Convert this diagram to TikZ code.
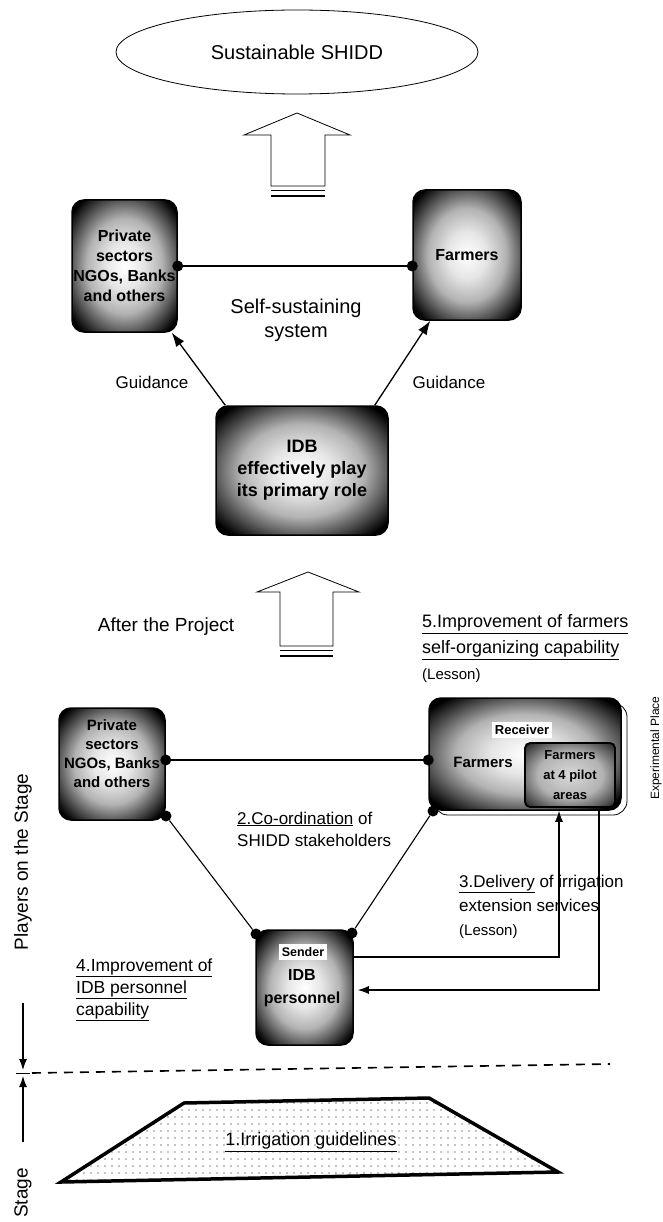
\documentclass[tikz,border=0pt]{standalone}
\usepackage{fontspec}
\setmainfont{Liberation Sans}
\usetikzlibrary{arrows.meta,patterns.meta,shapes.geometric}
\pgfdeclareradialshading{boxshade}{\pgfpoint{0bp}{0bp}}{color(0bp)=(white); color(9bp)=(white!90!black); color(18bp)=(white!70!black); color(26bp)=(black!70); color(32bp)=(black); color(50bp)=(black)}
\pgfdeclareradialshading{innershade}{\pgfpoint{0bp}{0bp}}{color(0bp)=(white!85!black); color(18bp)=(white!70!black); color(30bp)=(black!70); color(38bp)=(black); color(50bp)=(black)}
\tikzset{
  player/.style={draw=black, line width=1.5pt, rounded corners=12pt, shade, shading=boxshade, align=center, inner sep=0pt},
  dotnode/.style={circle, fill=black, inner sep=0pt, minimum size=11pt},
  conn/.style={line width=1.1pt},
  guide/.style={line width=1.3pt, -{Latex[length=14pt,width=10pt]}},
  feed/.style={line width=1.1pt, -{Latex[length=11pt,width=8pt]}},
  blockarrow/.style={draw=black, fill=white, line width=0.8pt},
  lbl/.style={align=left, inner sep=0pt},
  boxtext/.style={align=center, inner sep=0pt},
}
\begin{document}
\begin{tikzpicture}[x=1pt,y=-1pt]
\useasboundingbox (0,0) rectangle (663,1222);
\fill[white] (0,0) rectangle (663,1222);

% goal ellipse
\node[ellipse, draw, line width=0.8pt, minimum width=362pt, minimum height=84pt, fill=white,
      font=\fontsize{20}{24}\selectfont] (goal) at (297,52) {Sustainable SHIDD};

% block arrow 1
\draw[blockarrow] (297,113) -- (350,135) -- (325,135) -- (325,186) -- (271,186) -- (271,135) -- (244,135) -- cycle;
\draw[line width=0.7pt] (271,190) -- (325,190);
\draw[line width=2.5pt] (271,196) -- (325,196);

% top players
\node[player, minimum width=105pt, minimum height=132pt, font=\bfseries\fontsize{16}{20}\selectfont] (tp) at (124.5,266)
  {Private\\sectors\\NGOs, Banks\\and others};
\node[player, minimum width=108pt, minimum height=130pt, font=\bfseries\fontsize{16}{20}\selectfont] (tf) at (467,255)
  {Farmers};
\node[player, minimum width=172pt, minimum height=129pt, font=\bfseries\fontsize{18}{22}\selectfont] (idb) at (302,470.5)
  {IDB\\effectively play\\its primary role};

\node[dotnode] (d1) at (tp.east) {};
\node[dotnode] (d2) at (tf.west |- d1) {};
\draw[conn] (d1) -- (d2);

\node[boxtext, font=\fontsize{20}{24}\selectfont] (sss) at (296,320) {Self-sustaining\\system};

\draw[guide] ([xshift=10pt]idb.north west) -- ([xshift=-6pt]tp.south east);
\draw[guide] ([xshift=-14pt]idb.north east) -- ([xshift=18pt]tf.south west);
\node[boxtext, font=\fontsize{17}{20}\selectfont] (g1) at (152,382) {Guidance};
\node[boxtext, font=\fontsize{17}{20}\selectfont] (g2) at (449,382) {Guidance};

% block arrow 2
\draw[blockarrow] (308,572) -- (359,592) -- (333,592) -- (333,646) -- (280,646) -- (280,592) -- (257,592) -- cycle;
\draw[line width=0.7pt] (280,650) -- (333,650);
\draw[line width=2.5pt] (280,656) -- (333,656);

\node[boxtext, font=\fontsize{19}{22}\selectfont] (after) at (166,627) {After the Project};

\node[lbl, anchor=west, font=\fontsize{18}{26}\selectfont] (imp5) at (422,649)
  {\underline{5.Improvement of farmers}\\\underline{self-organizing capability}\\{\fontsize{15}{26}\selectfont (Lesson)}};

% lower players
\node[player, minimum width=106pt, minimum height=112pt] (lp) at (112,764) {};
\node[boxtext, font=\bfseries\fontsize{15}{19}\selectfont] (lpt) at (112,754) {Private\\sectors\\NGOs, Banks\\and others};

\draw[line width=0.8pt, rounded corners=14pt] (434,703) rectangle (627,815);
\node[player, minimum width=192pt, minimum height=112pt] (lf) at (525,754) {};
\node[boxtext, fill=white, inner sep=3pt, font=\bfseries\fontsize{13}{16}\selectfont] (recv) at (522,730) {Receiver};
\node[boxtext, font=\bfseries\fontsize{15}{18}\selectfont] (lft) at (483,762) {Farmers};
\node[draw=black, rounded corners=5pt, line width=1.8pt, shade, shading=innershade, align=center, inner sep=0pt,
      minimum width=90pt, minimum height=64pt,
      font=\bfseries\fontsize{13}{20}\selectfont] (pilot) at (570,775) {Farmers\\at 4 pilot\\areas};

\node[dotnode] (d3) at (lp.east |- 0,760) {};
\node[dotnode] (d4) at (lf.west |- d3) {};
\draw[conn] (d3) -- (d4);

\node[lbl, anchor=west, font=\fontsize{17}{22}\selectfont] (coord) at (237,829)
  {\underline{2.Co-ordination} of\\SHIDD stakeholders};

% IDB personnel
\node[player, minimum width=97pt, minimum height=115pt] (ip) at (304.5,987.5) {};
\node[boxtext, fill=white, inner sep=3pt, font=\bfseries\fontsize{12.5}{15}\selectfont] (snd) at (303,952) {Sender};
\node[boxtext, font=\bfseries\fontsize{16}{23}\selectfont] (ipt) at (302,988) {IDB\\personnel};

\node[dotnode] (d5) at (166,816) {};
\node[dotnode] (d6) at (433,811) {};
\node[dotnode] (d7) at (256,934) {};
\node[dotnode] (d8) at (352,933) {};
\draw[conn] (d5) -- (d7);
\draw[conn] (d6) -- (d8);

% feedback lines
\coordinate (c1) at (559,957);
\coordinate (c2) at (599,990);
\draw[feed] (ip.east |- c1) -- (c1) -- (c1 |- lf.south);
\draw[feed] (c2 |- lf.south) -- (c2) -- ([xshift=4pt]ip.east |- c2);

\node[lbl, anchor=west, font=\fontsize{17}{24}\selectfont] (deliv) at (459,907)
  {\underline{3.Delivery} of irrigation\\extension services\\{\fontsize{15}{24}\selectfont (Lesson)}};

\node[lbl, anchor=west, font=\fontsize{17.5}{22}\selectfont] (imp4) at (76,990)
  {\underline{4.Improvement of}\\\underline{IDB personnel}\\\underline{capability}};

% side markers
\node[boxtext, rotate=90, font=\fontsize{19}{22}\selectfont] (players) at (23,862) {Players on the Stage};
\node[boxtext, rotate=90, font=\fontsize{19}{22}\selectfont] (stagelbl) at (23,1193) {Stage};
\node[boxtext, rotate=90, font=\fontsize{12}{14}\selectfont] (exper) at (656,748) {Experimental Place};

\coordinate (mk) at (23,1073);
\coordinate (mtop) at (23,1003);
\coordinate (mbot) at (23,1142);
\draw[feed] (mtop) -- ([yshift=3pt]mk);
\draw[feed] (mbot) -- ([yshift=-3pt]mk);
\draw[line width=1pt] ([xshift=-7pt]mk) -- ([xshift=7pt]mk);
\coordinate (dl) at (32,1073);
\coordinate (dr) at (610,1064);
\draw[line width=1.6pt, dash pattern=on 9pt off 7pt] (dl) -- (dr);

% stage trapezoid
\draw[line width=3.5pt, line join=miter, fill=white, postaction={pattern={Dots[distance=7pt,radius=0.7pt]}}]
  (61,1182) -- (184,1103) -- (429,1098) -- (558,1172) -- cycle;
\node[boxtext, font=\fontsize{18}{20}\selectfont] (guide) at (311,1142) {\underline{1.Irrigation guidelines}};
\end{tikzpicture}
\end{document}
